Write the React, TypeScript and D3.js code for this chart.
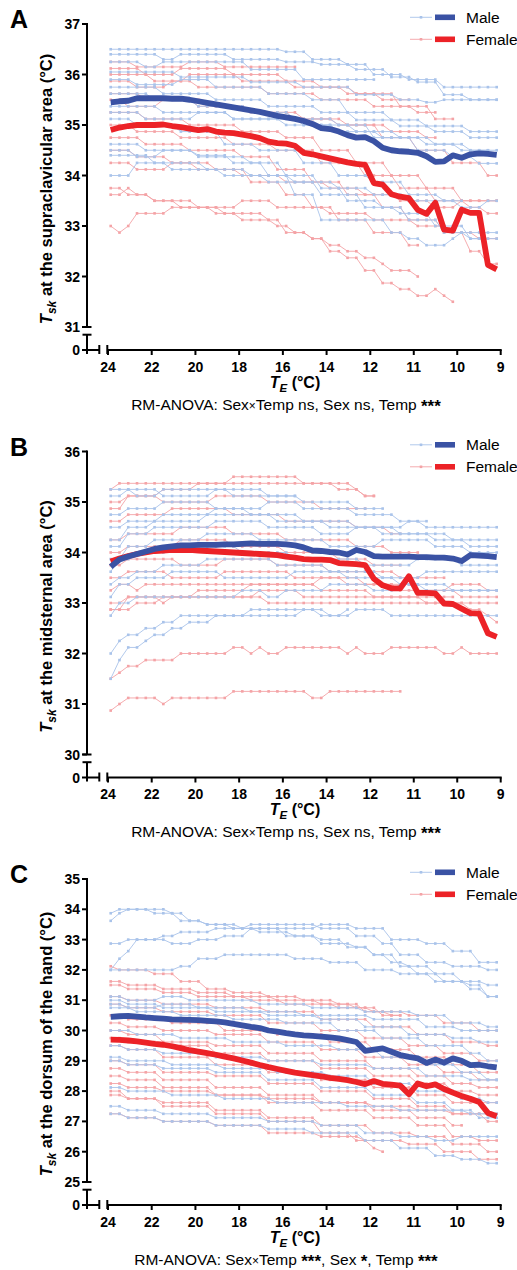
import React from 'react';
import * as d3 from 'd3';

// ---------- shared axis data ----------
const N = 45; // sampled time points per subject
const xTickValues = [24, 22, 20, 18, 16, 14, 12, 11, 10, 9];

// ---------- Panel A: supraclavicular ----------
const maleMeanA = [35.45, 35.47, 35.48, 35.53, 35.53, 35.53, 35.53, 35.52, 35.52, 35.5, 35.47, 35.44, 35.41, 35.38, 35.35, 35.32, 35.29, 35.26, 35.22, 35.18, 35.15, 35.12, 35.08, 35.02, 34.94, 34.92, 34.87, 34.8, 34.75, 34.76, 34.68, 34.55, 34.5, 34.48, 34.47, 34.45, 34.38, 34.27, 34.28, 34.4, 34.35, 34.42, 34.44, 34.43, 34.41];
const femaleMeanA = [34.9, 34.95, 34.98, 35.0, 35.0, 35.0, 35.01, 34.98, 34.96, 34.93, 34.9, 34.92, 34.87, 34.85, 34.84, 34.81, 34.78, 34.74, 34.67, 34.64, 34.63, 34.59, 34.45, 34.42, 34.38, 34.34, 34.3, 34.26, 34.23, 34.21, 33.85, 33.82, 33.63, 33.58, 33.55, 33.32, 33.24, 33.46, 32.93, 32.91, 33.32, 33.26, 33.26, 32.23, 32.14];
// individual subjects, run-length encoded as [value, count, value, count, ...]
const malesA = [
  [36.5, 20, 36.45, 3, 36.3, 4, 36.2, 3, 36.0, 4, 35.9, 4, 35.75, 7],
  [36.4, 6, 36.3, 2, 36.4, 6, 36.3, 6, 36.25, 4, 36.2, 4, 36.1, 4, 35.95, 3, 35.85, 3, 35.6, 3, 35.5, 4],
  [36.25, 4, 36.15, 2, 36.25, 10, 36.1, 6, 35.9, 9],
  [36.05, 8, 35.95, 8, 35.85, 6, 35.75, 6, 35.6, 5, 35.5, 3, 35.45, 2, 35.5, 7],
  [35.9, 3, 35.8, 5, 35.9, 4, 35.75, 6, 35.62, 5, 35.5, 4, 35.25, 5, 35.1, 4, 34.98, 5, 34.87, 4],
  [35.75, 6, 35.62, 6, 35.5, 6, 35.37, 6, 35.25, 4, 35.1, 5, 34.98, 4, 34.87, 4, 34.75, 4],
  [35.62, 5, 35.5, 5, 35.37, 6, 35.25, 5, 35.12, 5, 35.0, 4, 34.75, 5, 34.5, 4, 34.37, 3, 34.24, 3],
  [35.25, 4, 35.12, 6, 35.25, 4, 35.12, 6, 35.0, 6, 34.87, 5, 34.75, 5, 34.62, 4, 34.5, 4],
  [35.12, 3, 35.0, 5, 34.87, 5, 34.62, 4, 34.5, 5, 34.25, 4, 34.0, 4, 33.87, 4, 33.62, 4, 33.5, 3],
  [34.62, 4, 34.5, 6, 34.4, 4, 34.25, 4, 34.0, 3, 33.62, 3, 33.12, 8, 32.87, 2, 32.75, 2, 32.62, 3, 32.75, 1, 32.87, 5],
  [34.5, 3, 34.37, 3, 34.5, 4, 34.37, 6, 34.25, 4, 34.0, 4, 33.75, 3, 33.5, 4, 33.37, 3, 33.12, 4, 32.87, 3, 32.75, 2],
  [34.4, 5, 34.25, 6, 34.12, 5, 34.0, 5, 33.87, 5, 33.75, 4, 33.62, 4, 33.5, 6, 33.37, 3, 33.5, 2],
  [34.0, 3, 34.25, 4, 34.12, 6, 34.0, 5, 33.87, 6, 33.62, 5, 33.37, 4, 33.25, 4, 33.0, 4, 32.75, 4],
  [35.37, 6, 35.25, 8, 35.12, 8, 35.0, 6, 34.87, 5, 34.75, 4, 34.62, 4, 34.5, 4],
];
const femalesA = [
  [36.25, 3, 36.15, 6, 36.25, 4, 36.15, 9],
  [36.0, 5, 35.87, 4, 36.0, 6, 35.87, 6, 35.75, 6, 35.62, 4, 35.5, 4],
  [35.87, 3, 35.75, 4, 35.87, 3, 35.75, 8, 35.62, 6, 35.5, 6, 35.37, 5, 35.25, 3],
  [35.62, 4, 35.5, 6, 35.37, 6, 35.25, 6, 35.12, 5, 35.0, 5, 34.87, 4, 34.75, 2],
  [35.25, 4, 35.12, 5, 35.0, 6, 34.87, 5, 34.75, 4, 34.5, 4, 34.25, 4, 34.0, 4, 33.75, 4, 33.5, 5],
  [35.0, 3, 34.87, 5, 34.75, 6, 34.62, 5, 34.5, 5, 34.25, 5, 34.0, 4, 33.75, 4, 33.5, 4, 33.37, 2, 33.25, 2],
  [34.75, 4, 34.62, 5, 34.5, 6, 34.37, 4, 34.12, 4, 33.87, 4, 33.62, 4, 33.37, 3, 33.12, 4, 32.87, 3, 32.5, 2, 32.25, 2],
  [33.0, 1, 32.87, 1, 33.0, 1, 33.25, 4, 33.37, 6, 33.25, 5, 33.12, 2, 32.87, 3, 32.75, 2, 32.62, 2, 32.5, 2, 32.37, 2, 32.25, 1, 32.12, 3, 32.0, 1],
  [33.62, 2, 33.75, 1, 33.62, 2, 33.5, 3, 33.37, 4, 33.25, 3, 33.12, 4, 33.0, 2, 32.87, 2, 32.75, 2, 32.5, 2, 32.37, 2, 32.12, 2, 31.87, 2, 31.75, 2, 31.62, 2, 31.75, 1, 31.62, 1, 31.5, 1],
  [33.75, 2, 33.62, 3, 33.5, 5, 33.37, 5, 33.5, 4, 33.37, 6, 33.25, 5, 33.12, 5, 33.0, 4, 32.87, 3, 32.75, 3],
  [34.25, 3, 34.12, 4, 34.25, 3, 34.12, 5, 34.0, 5, 33.87, 5, 33.75, 4, 33.62, 4, 33.5, 4, 33.37, 3, 33.5, 5],
  [35.5, 2, 35.37, 4, 35.5, 5, 35.37, 5, 35.25, 5, 35.12, 5, 35.0, 5, 34.75, 4, 34.5, 4, 34.25, 4, 34.0, 2],
  [36.12, 4, 36.0, 4, 36.12, 6, 36.0, 6, 35.87, 4, 35.75, 4, 35.62, 5, 35.37, 4, 35.12, 3],
  [34.5, 3, 34.37, 4, 34.25, 5, 34.12, 4, 33.87, 4, 33.62, 3, 33.37, 3, 33.12, 4, 32.87, 4, 32.62, 2],
];

// ---------- Panel B: midsternal ----------
const maleMeanB = [33.72, 33.86, 33.92, 33.97, 34.02, 34.07, 34.1, 34.12, 34.14, 34.14, 34.15, 34.15, 34.15, 34.16, 34.16, 34.17, 34.18, 34.17, 34.17, 34.17, 34.16, 34.14, 34.1, 34.04, 34.03, 34.01, 34.0, 33.96, 34.05, 34.01, 33.93, 33.92, 33.92, 33.92, 33.92, 33.91, 33.91, 33.9, 33.9, 33.88, 33.83, 33.95, 33.94, 33.93, 33.91];
const femaleMeanB = [33.82, 33.88, 33.93, 33.97, 34.0, 34.03, 34.04, 34.05, 34.05, 34.05, 34.04, 34.03, 34.02, 34.01, 34.0, 33.99, 33.98, 33.97, 33.96, 33.95, 33.92, 33.9, 33.87, 33.86, 33.86, 33.85, 33.79, 33.78, 33.77, 33.75, 33.48, 33.35, 33.29, 33.29, 33.53, 33.2, 33.2, 33.19, 32.99, 32.98, 32.89, 32.8, 32.79, 32.4, 32.33];
const malesB = [
  [32.0, 1, 32.25, 1, 32.37, 2, 32.5, 2, 32.62, 2, 32.75, 8, 32.87, 9, 32.75, 3, 32.87, 4, 32.75, 13],
  [31.5, 1, 31.87, 1, 32.12, 2, 32.25, 1, 32.37, 2, 32.5, 2, 32.62, 3, 32.75, 10, 32.87, 2, 32.75, 3, 32.87, 1],
  [32.75, 1, 33.0, 2, 33.12, 12, 33.25, 3, 33.12, 2, 33.25, 5, 33.37, 5, 33.25, 3, 33.37, 3, 33.25, 9],
  [33.37, 1, 33.5, 2, 33.62, 3, 33.75, 5, 33.87, 8, 33.75, 6, 33.62, 6, 33.5, 5, 33.62, 9],
  [33.62, 1, 33.87, 2, 34.0, 4, 34.12, 8, 34.0, 6, 33.87, 8, 33.75, 6, 33.87, 5, 33.75, 5],
  [33.87, 2, 34.12, 3, 34.25, 6, 34.37, 6, 34.25, 8, 34.12, 6, 34.25, 6, 34.12, 4, 34.0, 4],
  [34.12, 2, 34.37, 3, 34.5, 7, 34.62, 6, 34.5, 6, 34.37, 4, 34.5, 6, 34.62, 2, 34.5, 9],
  [34.25, 2, 34.5, 3, 34.62, 6, 34.75, 8, 34.62, 6, 34.5, 6, 34.37, 6, 34.25, 4, 34.12, 4],
  [34.75, 2, 34.87, 4, 35.0, 6, 34.87, 6, 35.0, 4, 34.87, 6, 34.75, 5, 34.62, 4],
  [35.12, 2, 35.25, 4, 35.12, 6, 35.25, 6, 35.12, 4, 35.0, 6, 34.87, 4],
  [35.25, 3, 35.12, 3, 35.25, 8, 35.12, 8],
  [33.12, 1, 33.37, 2, 33.5, 4, 33.62, 6, 33.5, 8, 33.62, 6, 33.5, 6, 33.37, 6, 33.25, 6],
  [34.5, 2, 34.62, 4, 34.75, 6, 34.87, 4, 34.75, 6, 34.62, 6, 34.5, 5, 34.37, 6, 34.25, 6],
];
const femalesB = [
  [30.87, 1, 31.0, 1, 31.12, 4, 31.0, 1, 31.12, 7, 31.25, 9, 31.12, 2, 31.25, 9],
  [31.5, 1, 31.62, 1, 31.75, 2, 31.87, 4, 32.0, 6, 32.12, 2, 32.0, 1, 32.12, 1, 32.0, 2, 32.12, 7, 32.0, 1, 32.12, 1, 32.0, 3, 32.12, 6, 32.0, 2, 32.12, 1, 32.0, 4],
  [32.87, 2, 33.12, 16, 33.0, 27],
  [33.0, 2, 33.12, 4, 33.0, 1, 33.12, 10, 33.25, 5, 33.12, 18],
  [33.25, 1, 33.37, 2, 33.25, 1, 33.37, 20, 33.25, 6, 33.12, 6, 33.0, 5, 32.87, 2, 32.75, 1, 32.62, 1],
  [33.5, 2, 33.62, 5, 33.5, 6, 33.62, 8, 33.5, 6, 33.37, 6, 33.25, 6, 33.37, 4, 33.25, 2],
  [33.75, 2, 33.87, 6, 33.75, 5, 33.87, 6, 33.75, 6, 33.62, 8, 33.5, 6],
  [34.0, 2, 34.12, 6, 34.25, 6, 34.12, 6, 34.0, 6, 33.87, 4, 33.75, 4],
  [34.25, 2, 34.37, 6, 34.5, 6, 34.37, 6, 34.25, 8, 34.12, 4, 34.0, 4],
  [34.62, 2, 34.75, 5, 34.87, 7, 34.75, 6, 34.62, 8, 34.5, 4, 34.37, 2],
  [35.0, 2, 35.12, 4, 35.0, 6, 35.12, 6, 35.0, 6, 34.87, 6],
  [35.25, 1, 35.37, 27, 35.25, 1, 35.12, 2],
  [34.87, 2, 35.12, 4, 35.25, 4, 35.37, 4, 35.5, 8, 35.37, 4, 35.25, 3, 35.12, 2],
  [32.87, 3, 33.0, 3, 33.12, 4, 33.25, 6, 33.37, 8, 33.5, 5, 33.37, 6, 33.25, 5, 33.12, 5],
];

// ---------- Panel C: dorsum of the hand ----------
const maleMeanC = [30.45, 30.47, 30.48, 30.46, 30.43, 30.41, 30.39, 30.37, 30.36, 30.35, 30.34, 30.32, 30.3, 30.27, 30.22, 30.17, 30.12, 30.08, 30.0, 29.96, 29.91, 29.87, 29.84, 29.82, 29.8, 29.77, 29.74, 29.68, 29.62, 29.33, 29.37, 29.41, 29.3, 29.19, 29.13, 29.08, 28.93, 29.04, 28.94, 29.08, 29.0, 28.86, 28.87, 28.82, 28.78];
const femaleMeanC = [29.7, 29.69, 29.67, 29.64, 29.6, 29.56, 29.53, 29.48, 29.42, 29.35, 29.3, 29.25, 29.2, 29.14, 29.08, 29.01, 28.94, 28.86, 28.79, 28.73, 28.67, 28.61, 28.57, 28.53, 28.49, 28.44, 28.4, 28.36, 28.3, 28.23, 28.33, 28.24, 28.21, 28.18, 27.9, 28.25, 28.16, 28.22, 28.07, 27.95, 27.84, 27.75, 27.64, 27.28, 27.17];
const malesC = [
  [33.87, 1, 34.0, 4, 33.87, 3, 33.62, 3, 33.5, 3, 33.37, 3, 33.25, 4, 33.12, 3, 33.0, 3, 32.75, 3, 32.5, 2, 32.25, 2, 32.12, 3, 31.87, 3, 31.62, 3, 31.5, 2],
  [33.62, 1, 33.87, 1, 34.0, 5, 33.87, 2, 33.62, 2, 33.5, 4, 33.37, 5, 33.12, 4, 32.87, 4, 32.75, 2, 32.5, 3, 32.12, 2, 31.87, 3, 31.62, 3, 31.5, 2, 31.12, 2],
  [32.87, 2, 33.0, 4, 33.12, 2, 33.25, 4, 33.37, 4, 33.5, 8, 33.37, 4, 33.12, 3, 32.87, 2, 32.5, 3, 32.25, 3, 32.12, 4, 32.0, 2],
  [32.0, 1, 32.37, 1, 32.62, 1, 33.0, 4, 32.87, 3, 33.0, 3, 33.12, 3, 33.37, 8, 33.5, 4, 33.37, 4, 33.0, 4, 32.87, 3, 32.62, 3, 32.25, 3],
  [32.0, 8, 32.12, 2, 32.37, 3, 32.5, 8, 32.37, 4, 32.25, 4, 32.0, 4, 31.87, 4, 31.62, 4, 31.37, 2, 31.12, 2],
  [31.12, 2, 31.0, 4, 31.12, 3, 31.0, 8, 30.87, 6, 30.75, 6, 30.62, 6, 30.5, 4, 30.25, 4, 30.12, 2],
  [31.0, 2, 30.87, 4, 30.75, 6, 30.62, 6, 30.5, 6, 30.37, 5, 30.12, 5, 29.87, 5, 29.75, 3, 29.62, 3],
  [30.75, 3, 30.62, 5, 30.5, 6, 30.37, 6, 30.25, 6, 30.0, 5, 29.75, 5, 29.5, 5, 29.25, 2, 29.0, 2],
  [30.0, 3, 29.87, 5, 29.75, 6, 29.62, 6, 29.5, 6, 29.37, 5, 29.12, 5, 28.87, 4, 28.62, 3, 28.37, 2],
  [29.12, 2, 29.0, 5, 28.87, 6, 28.75, 6, 28.62, 6, 28.5, 5, 28.25, 5, 28.0, 5, 27.75, 3, 27.62, 2],
  [28.12, 2, 28.0, 5, 27.87, 6, 27.75, 6, 27.62, 8, 27.5, 6, 27.37, 8, 27.25, 4],
  [27.5, 2, 27.37, 4, 27.25, 6, 27.12, 6, 27.0, 6, 26.87, 5, 26.62, 4, 26.5, 4, 26.37, 3, 26.5, 5],
  [27.25, 2, 27.12, 4, 27.0, 6, 26.87, 6, 26.75, 5, 26.62, 6, 26.37, 4, 26.12, 4, 25.87, 3, 25.75, 3, 25.62, 2],
  [29.0, 2, 28.87, 4, 28.75, 6, 28.62, 6, 28.37, 6, 28.12, 6, 27.87, 5, 27.62, 4, 27.37, 3, 27.12, 3],
  [30.87, 2, 30.75, 4, 30.87, 4, 30.75, 6, 30.62, 6, 30.5, 8, 30.37, 6, 30.12, 4, 30.0, 5],
  [29.5, 2, 29.37, 4, 29.25, 6, 29.12, 6, 29.0, 6, 28.87, 6, 28.75, 6, 28.5, 5, 28.37, 4],
];
const femalesC = [
  [32.12, 1, 32.0, 4, 31.87, 3, 31.62, 3, 31.37, 3, 31.25, 4, 31.12, 4, 31.0, 4, 30.87, 3, 30.62, 3, 30.5, 2],
  [31.62, 2, 31.5, 4, 31.37, 4, 31.25, 4, 31.12, 5, 31.0, 5, 30.87, 4, 30.75, 3, 30.5, 3],
  [31.5, 2, 31.37, 4, 31.25, 4, 31.12, 6, 31.0, 4, 30.87, 6, 30.75, 4, 30.62, 4, 30.5, 4, 30.25, 4, 30.0, 3],
  [31.12, 2, 31.0, 4, 30.87, 6, 30.75, 6, 30.62, 6, 30.37, 6, 30.12, 5, 29.87, 4, 29.62, 4, 29.5, 2],
  [30.87, 2, 30.75, 4, 30.62, 6, 30.5, 6, 30.25, 6, 30.0, 5, 29.75, 5, 29.5, 4, 29.25, 4, 29.0, 3],
  [30.5, 2, 30.37, 5, 30.25, 6, 30.0, 6, 29.87, 6, 29.62, 5, 29.37, 5, 29.12, 4, 28.87, 3, 28.62, 3],
  [30.25, 2, 30.12, 4, 30.0, 6, 29.87, 6, 29.62, 6, 29.37, 5, 29.12, 5, 28.87, 4, 28.62, 4, 28.37, 3],
  [30.0, 2, 29.87, 4, 29.62, 6, 29.5, 6, 29.25, 6, 29.0, 6, 28.75, 5, 28.5, 4, 28.25, 3, 28.12, 3],
  [29.75, 2, 29.62, 4, 29.5, 6, 29.25, 6, 29.0, 6, 28.75, 6, 28.5, 5, 28.25, 4, 28.0, 3, 27.87, 3],
  [29.5, 2, 29.37, 4, 29.12, 6, 28.87, 6, 28.62, 6, 28.37, 6, 28.12, 5, 27.87, 4, 27.62, 6],
  [29.0, 2, 28.87, 4, 28.62, 6, 28.5, 6, 28.25, 6, 28.0, 6, 27.75, 5, 27.5, 4, 27.25, 4, 27.0, 2],
  [28.75, 2, 28.62, 4, 28.37, 6, 28.12, 6, 27.87, 6, 27.62, 6, 27.37, 5, 27.12, 4, 26.87, 2],
  [28.5, 2, 28.37, 4, 28.12, 6, 27.87, 6, 27.62, 6, 27.37, 6, 27.12, 5, 26.87, 4, 26.5, 3, 26.37, 3],
  [28.0, 2, 27.75, 4, 27.5, 6, 27.25, 6, 27.0, 6, 26.62, 4, 26.37, 2, 26.12, 1, 26.0, 1],
  [27.87, 2, 27.75, 4, 27.62, 6, 27.37, 6, 27.12, 6, 26.87, 6, 26.62, 5, 26.5, 4, 26.25, 4, 26.0, 2],
  [27.25, 2, 27.12, 4, 27.0, 6, 26.87, 6, 26.62, 6, 26.5, 5, 26.37, 5, 26.25, 4, 26.0, 4, 25.75, 3],
  [28.25, 2, 28.12, 4, 28.0, 6, 27.87, 6, 27.75, 6, 27.62, 6, 27.5, 5, 27.37, 4, 27.25, 6],
];

// ---------- styling ----------
const FONT = "'Liberation Sans', Arial, Helvetica, sans-serif";
const C_MALE_LIGHT = '#a9c3ea';
const C_FEMALE_LIGHT = '#f4a3a6';
const C_MALE = '#3a52a4';
const C_FEMALE = '#ec2227';

function expand(runs: number[]): number[] {
  const out: number[] = [];
  for (let k = 0; k < runs.length; k += 2) {
    for (let j = 0; j < runs[k + 1]; j++) out.push(runs[k]);
  }
  return out.slice(0, N);
}

type PanelDef = {
  letter: string;
  top: number;
  domain: [number, number];
  ticks: number[];
  region: string;
  footer: React.ReactNode;
  males: number[][];
  females: number[][];
  maleMean: number[];
  femaleMean: number[];
};

const xIdx = d3.scaleLinear().domain([0, N - 1]).range([110.7, 496.7]);
const xTE = d3.scaleLinear().domain([24, 12, 9]).range([108, 370.3, 500.7]);

const stars = (s: string) => <tspan fontWeight="bold" fontSize="17" baselineShift="-2">{s}</tspan>;
const times = <tspan fontSize="12">×</tspan>;

const panels: PanelDef[] = [
  {
    letter: 'A', top: 0, domain: [31, 37], ticks: d3.range(31, 38),
    region: ' at the supraclavicular area (°C)',
    footer: <>RM-ANOVA: Sex{times}Temp ns, Sex ns, Temp {stars('***')}</>,
    males: malesA, females: femalesA, maleMean: maleMeanA, femaleMean: femaleMeanA,
  },
  {
    letter: 'B', top: 427.5, domain: [30, 36], ticks: d3.range(30, 37),
    region: ' at the midsternal area (°C)',
    footer: <>RM-ANOVA: Sex{times}Temp ns, Sex ns, Temp {stars('***')}</>,
    males: malesB, females: femalesB, maleMean: maleMeanB, femaleMean: femaleMeanB,
  },
  {
    letter: 'C', top: 855, domain: [25, 35], ticks: d3.range(25, 36),
    region: ' at the dorsum of the hand (°C)',
    footer: <>RM-ANOVA: Sex{times}Temp {stars('***')}, Sex {stars('*')}, Temp {stars('***')}</>,
    males: malesC, females: femalesC, maleMean: maleMeanC, femaleMean: femaleMeanC,
  },
];

function Subject({ vals, y, color }: { vals: number[]; y: d3.ScaleLinear<number, number>; color: string }) {
  const line = d3.line<number>().x((_, i) => xIdx(i)).y((v) => y(v));
  return (
    <g>
      <path d={line(vals) || ''} fill="none" stroke={color} strokeWidth={0.9} />
      {vals.map((v, i) => (
        <rect key={i} x={xIdx(i) - 1.3} y={y(v) - 1.3} width={2.6} height={2.6} fill={color} />
      ))}
    </g>
  );
}

function Panel({ p }: { p: PanelDef }) {
  const T = p.top;
  const y = d3.scaleLinear().domain(p.domain).range([T + 327, T + 24]);
  const zeroY = T + 350;
  const meanLine = d3.line<number>().x((_, i) => xIdx(i)).y((v) => y(v));
  const axisColor = '#000';
  const yTop = y(p.domain[1]);
  const yBot = y(p.domain[0]);
  const breakY = T + 334.7;
  return (
    <g>
      {/* panel letter */}
      <text x={10} y={T + 28} fontSize={25} fontWeight="bold" fontFamily={FONT}>{p.letter}</text>

      {/* individual subjects */}
      {p.females.map((r, k) => <Subject key={'f' + k} vals={expand(r)} y={y} color={C_FEMALE_LIGHT} />)}
      {p.males.map((r, k) => <Subject key={'m' + k} vals={expand(r)} y={y} color={C_MALE_LIGHT} />)}

      {/* group means */}
      <path d={meanLine(p.femaleMean) || ''} fill="none" stroke={C_FEMALE} strokeWidth={5.8} strokeLinejoin="round" />
      <path d={meanLine(p.maleMean) || ''} fill="none" stroke={C_MALE} strokeWidth={5.8} strokeLinejoin="round" />

      {/* y axis */}
      <g stroke={axisColor} strokeWidth={2} fill="none">
        <path d={`M87,${yTop - 1}V${yBot}`} />
        {p.ticks.map((t) => <path key={t} d={`M82,${y(t)}H87`} />)}
        <path d={`M82.5,${yBot}H91.5`} />
        <path d={`M82.5,${breakY}H91.5`} />
        <path d={`M87,${breakY}V${zeroY + 4}`} />
        <path d={`M82,${zeroY}H87`} />
        {/* x axis with break */}
        <path d={`M87,${zeroY}H99.3`} />
        <path d={`M99.3,${zeroY - 5}V${zeroY + 4}`} />
        <path d={`M107.3,${zeroY - 5}V${zeroY + 4}`} />
        <path d={`M107.3,${zeroY}H${xTE(9) + 1}`} />
        {xTickValues.map((t) => <path key={t} d={`M${xTE(t)},${zeroY}V${zeroY + 5}`} />)}
      </g>
      <g fontFamily={FONT} fontSize={14} fontWeight="bold" fill="#000">
        {p.ticks.map((t) => (
          <text key={t} x={80} y={y(t) + 5} textAnchor="end">{t}</text>
        ))}
        <text x={80} y={zeroY + 5} textAnchor="end">0</text>
        {xTickValues.map((t) => (
          <text key={t} x={xTE(t)} y={T + 371.5} textAnchor="middle">{t}</text>
        ))}
      </g>

      {/* axis titles */}
      <text transform={`translate(52,${T + 189}) rotate(-90)`} textAnchor="middle" fontFamily={FONT} fontSize={16.5} fontWeight="bold">
        <tspan fontStyle="italic">T</tspan>
        <tspan fontStyle="italic" fontSize={12} dy={4}>sk</tspan>
        <tspan dy={-4}>{p.region}</tspan>
      </text>
      <text x={295} y={T + 387.5} textAnchor="middle" fontFamily={FONT} fontSize={16} fontWeight="bold">
        <tspan fontStyle="italic">T</tspan>
        <tspan fontStyle="italic" fontSize={11.5} dy={4}>E</tspan>
        <tspan dy={-4}> (°C)</tspan>
      </text>
      <text x={286} y={T + 409.5} textAnchor="middle" fontFamily={FONT} fontSize={15.5}>{p.footer}</text>

      {/* legend */}
      {[{ name: 'Male', light: C_MALE_LIGHT, dark: C_MALE, ly: T + 17.3 }, { name: 'Female', light: C_FEMALE_LIGHT, dark: C_FEMALE, ly: T + 39.3 }].map((l) => (
        <g key={l.name}>
          <path d={`M410,${l.ly}H432`} stroke={l.light} strokeWidth={0.9} />
          <rect x={419.7} y={l.ly - 1.3} width={2.6} height={2.6} fill={l.light} />
          <rect x={435} y={l.ly - 2.8} width={20} height={5.6} fill={l.dark} />
          <text x={466} y={l.ly + 5.5} fontFamily={FONT} fontSize={15.5}>{l.name}</text>
        </g>
      ))}
    </g>
  );
}

export default function App() {
  return (
    <svg width={517} height={1270} style={{ position: 'absolute', left: 0, top: 0, background: '#fff' }}>
      <rect width={517} height={1270} fill="#fff" />
      {panels.map((p) => <Panel key={p.letter} p={p} />)}
    </svg>
  );
}
